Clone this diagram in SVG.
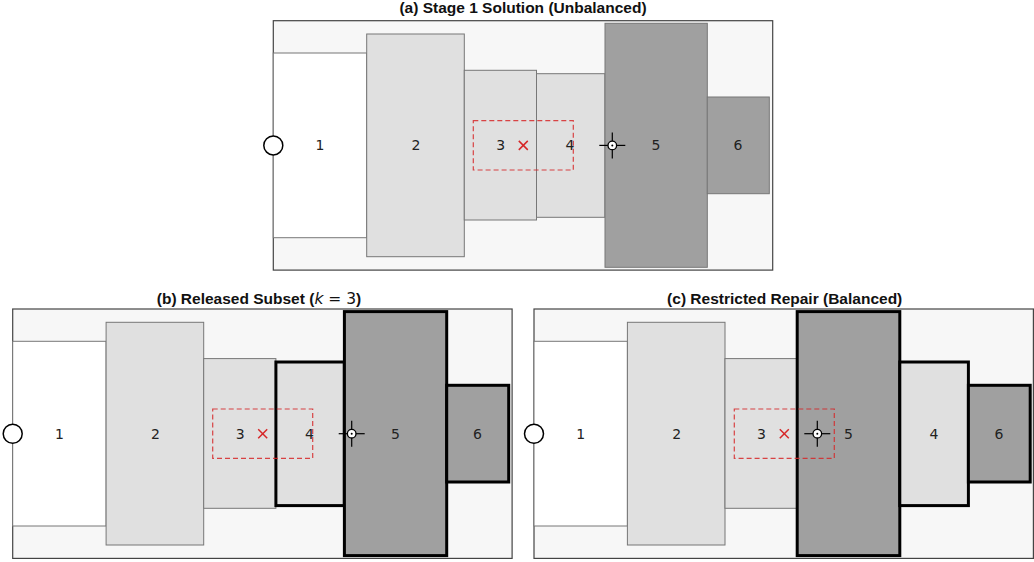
<svg xmlns="http://www.w3.org/2000/svg" xmlns:xlink="http://www.w3.org/1999/xlink" width="1034" height="562" viewBox="0 0 1034 562">
<style>
.bg{fill:#ffffff}
.frame{fill:#f7f7f7;stroke:#444444;stroke-width:1.2}
.w{fill:#ffffff;stroke:#777777;stroke-width:1}
.l{fill:#e0e0e0;stroke:#777777;stroke-width:1}
.d{fill:#a0a0a0;stroke:#777777;stroke-width:1}
.thick{stroke:#000000;stroke-width:3}
.lbl{font-family:"DejaVu Sans",sans-serif;font-size:14px;fill:#222222;text-anchor:middle;dominant-baseline:central}
.title{font-family:"Liberation Sans",Arial,sans-serif;font-size:15.5px;font-weight:bold;fill:#111111;text-anchor:middle}
.dash{fill:none;stroke:#d62728;stroke-width:1.2;stroke-dasharray:5,3;opacity:0.85}
.x{stroke:#d62728;stroke-width:1.5;fill:none}
.inlet{fill:#ffffff;stroke:#000000;stroke-width:1.5}
</style>
<defs>
<g id="cross">
<line x1="-13" y1="0" x2="13" y2="0" stroke="#000" stroke-width="1.2"/>
<line x1="0" y1="-13" x2="0" y2="13" stroke="#000" stroke-width="1.2"/>
<circle cx="0" cy="0" r="4.3" fill="#fff" stroke="#000" stroke-width="1.3"/>
<circle cx="0" cy="0" r="1" fill="#000"/>
</g>
<g id="xmark">
<line x1="-4.5" y1="-4.5" x2="4.5" y2="4.5" class="x"/>
<line x1="-4.5" y1="4.5" x2="4.5" y2="-4.5" class="x"/>
</g>
</defs>
<rect class="bg" x="0" y="0" width="1034" height="562"/>

<!-- Panel (a) -->
<text class="title" x="523" y="13">(a) Stage 1 Solution (Unbalanced)</text>
<g id="panel-a" transform="translate(273.3,20.7)">
<rect class="frame" x="0" y="0" width="499.4" height="249.4"/>
<g id="a-node1"><rect class="w" x="0" y="32.3" width="93.4" height="184.7"/><text class="lbl" x="46.7" y="124.7">1</text></g>
<g id="a-node2"><rect class="l" x="93.4" y="13.3" width="97.6" height="222.7"/><text class="lbl" x="142.7" y="124.7">2</text></g>
<g id="a-node3"><rect class="l" x="191" y="49.6" width="72.2" height="149.7"/><text class="lbl" x="227.4" y="124.7">3</text></g>
<g id="a-node4"><rect class="l" x="263.2" y="53" width="68.4" height="143.6"/><text class="lbl" x="296.7" y="124.7">4</text></g>
<g id="a-node5"><rect class="d" x="331.7" y="2.6" width="102.3" height="244"/><text class="lbl" x="382.7" y="124.7">5</text></g>
<g id="a-node6"><rect class="d" x="434" y="76.3" width="62" height="96.7"/><text class="lbl" x="464.7" y="124.7">6</text></g>
<g id="a-markers">
<circle class="inlet" cx="0" cy="124.7" r="9.5"/>
<rect class="dash" x="200" y="100" width="100" height="49.3"/>
<use xlink:href="#xmark" x="250" y="124.7"/>
<use xlink:href="#cross" x="339" y="124.7"/>
</g>
</g>

<!-- Panel (b) -->
<text class="title" x="259" y="303.5">(b) Released Subset (<tspan font-family="DejaVu Sans" font-style="italic" font-weight="normal">k</tspan><tspan font-family="DejaVu Sans" font-weight="normal"> = 3</tspan>)</text>
<g id="panel-b" transform="translate(12.7,309)">
<rect class="frame" x="0" y="0" width="499.4" height="249.4"/>
<g id="b-node1"><rect class="w" x="0" y="32.3" width="93.4" height="184.7"/><text class="lbl" x="46.7" y="124.7">1</text></g>
<g id="b-node2"><rect class="l" x="93.4" y="13.3" width="97.6" height="222.7"/><text class="lbl" x="142.7" y="124.7">2</text></g>
<g id="b-node3"><rect class="l" x="191" y="49.6" width="72.2" height="149.7"/><text class="lbl" x="227.4" y="124.7">3</text></g>
<g id="b-node4"><rect class="l thick" x="263.2" y="53" width="68.4" height="143.6"/><text class="lbl" x="296.7" y="124.7">4</text></g>
<g id="b-node5"><rect class="d thick" x="331.7" y="2.6" width="102.3" height="244"/><text class="lbl" x="382.7" y="124.7">5</text></g>
<g id="b-node6"><rect class="d thick" x="434" y="76.3" width="62" height="96.7"/><text class="lbl" x="464.7" y="124.7">6</text></g>
<g id="b-markers">
<circle class="inlet" cx="0" cy="124.7" r="9.5"/>
<rect class="dash" x="200" y="100" width="100" height="49.3"/>
<use xlink:href="#xmark" x="250" y="124.7"/>
<use xlink:href="#cross" x="339" y="124.7"/>
</g>
</g>

<!-- Panel (c) -->
<text class="title" x="784.7" y="303.5">(c) Restricted Repair (Balanced)</text>
<g id="panel-c" transform="translate(534,309)">
<rect class="frame" x="0" y="0" width="499.4" height="249.4"/>
<g id="c-node1"><rect class="w" x="0" y="32.3" width="93.4" height="184.7"/><text class="lbl" x="46.7" y="124.7">1</text></g>
<g id="c-node2"><rect class="l" x="93.4" y="13.3" width="97.6" height="222.7"/><text class="lbl" x="142.7" y="124.7">2</text></g>
<g id="c-node3"><rect class="l" x="191" y="49.6" width="72.2" height="149.7"/><text class="lbl" x="227.4" y="124.7">3</text></g>
<g id="c-node5"><rect class="d thick" x="263.2" y="2.6" width="102.6" height="244"/><text class="lbl" x="314.5" y="124.7">5</text></g>
<g id="c-node4"><rect class="l thick" x="365.8" y="53" width="68.6" height="143.6"/><text class="lbl" x="400" y="124.7">4</text></g>
<g id="c-node6"><rect class="d thick" x="434.4" y="76.3" width="61.8" height="96.7"/><text class="lbl" x="465" y="124.7">6</text></g>
<g id="c-markers">
<circle class="inlet" cx="0" cy="124.7" r="9.5"/>
<rect class="dash" x="200.3" y="100" width="100" height="49.3"/>
<use xlink:href="#xmark" x="250.3" y="124.7"/>
<use xlink:href="#cross" x="283.3" y="124.7"/>
</g>
</g>
<g id="connectors"></g>
</svg>
